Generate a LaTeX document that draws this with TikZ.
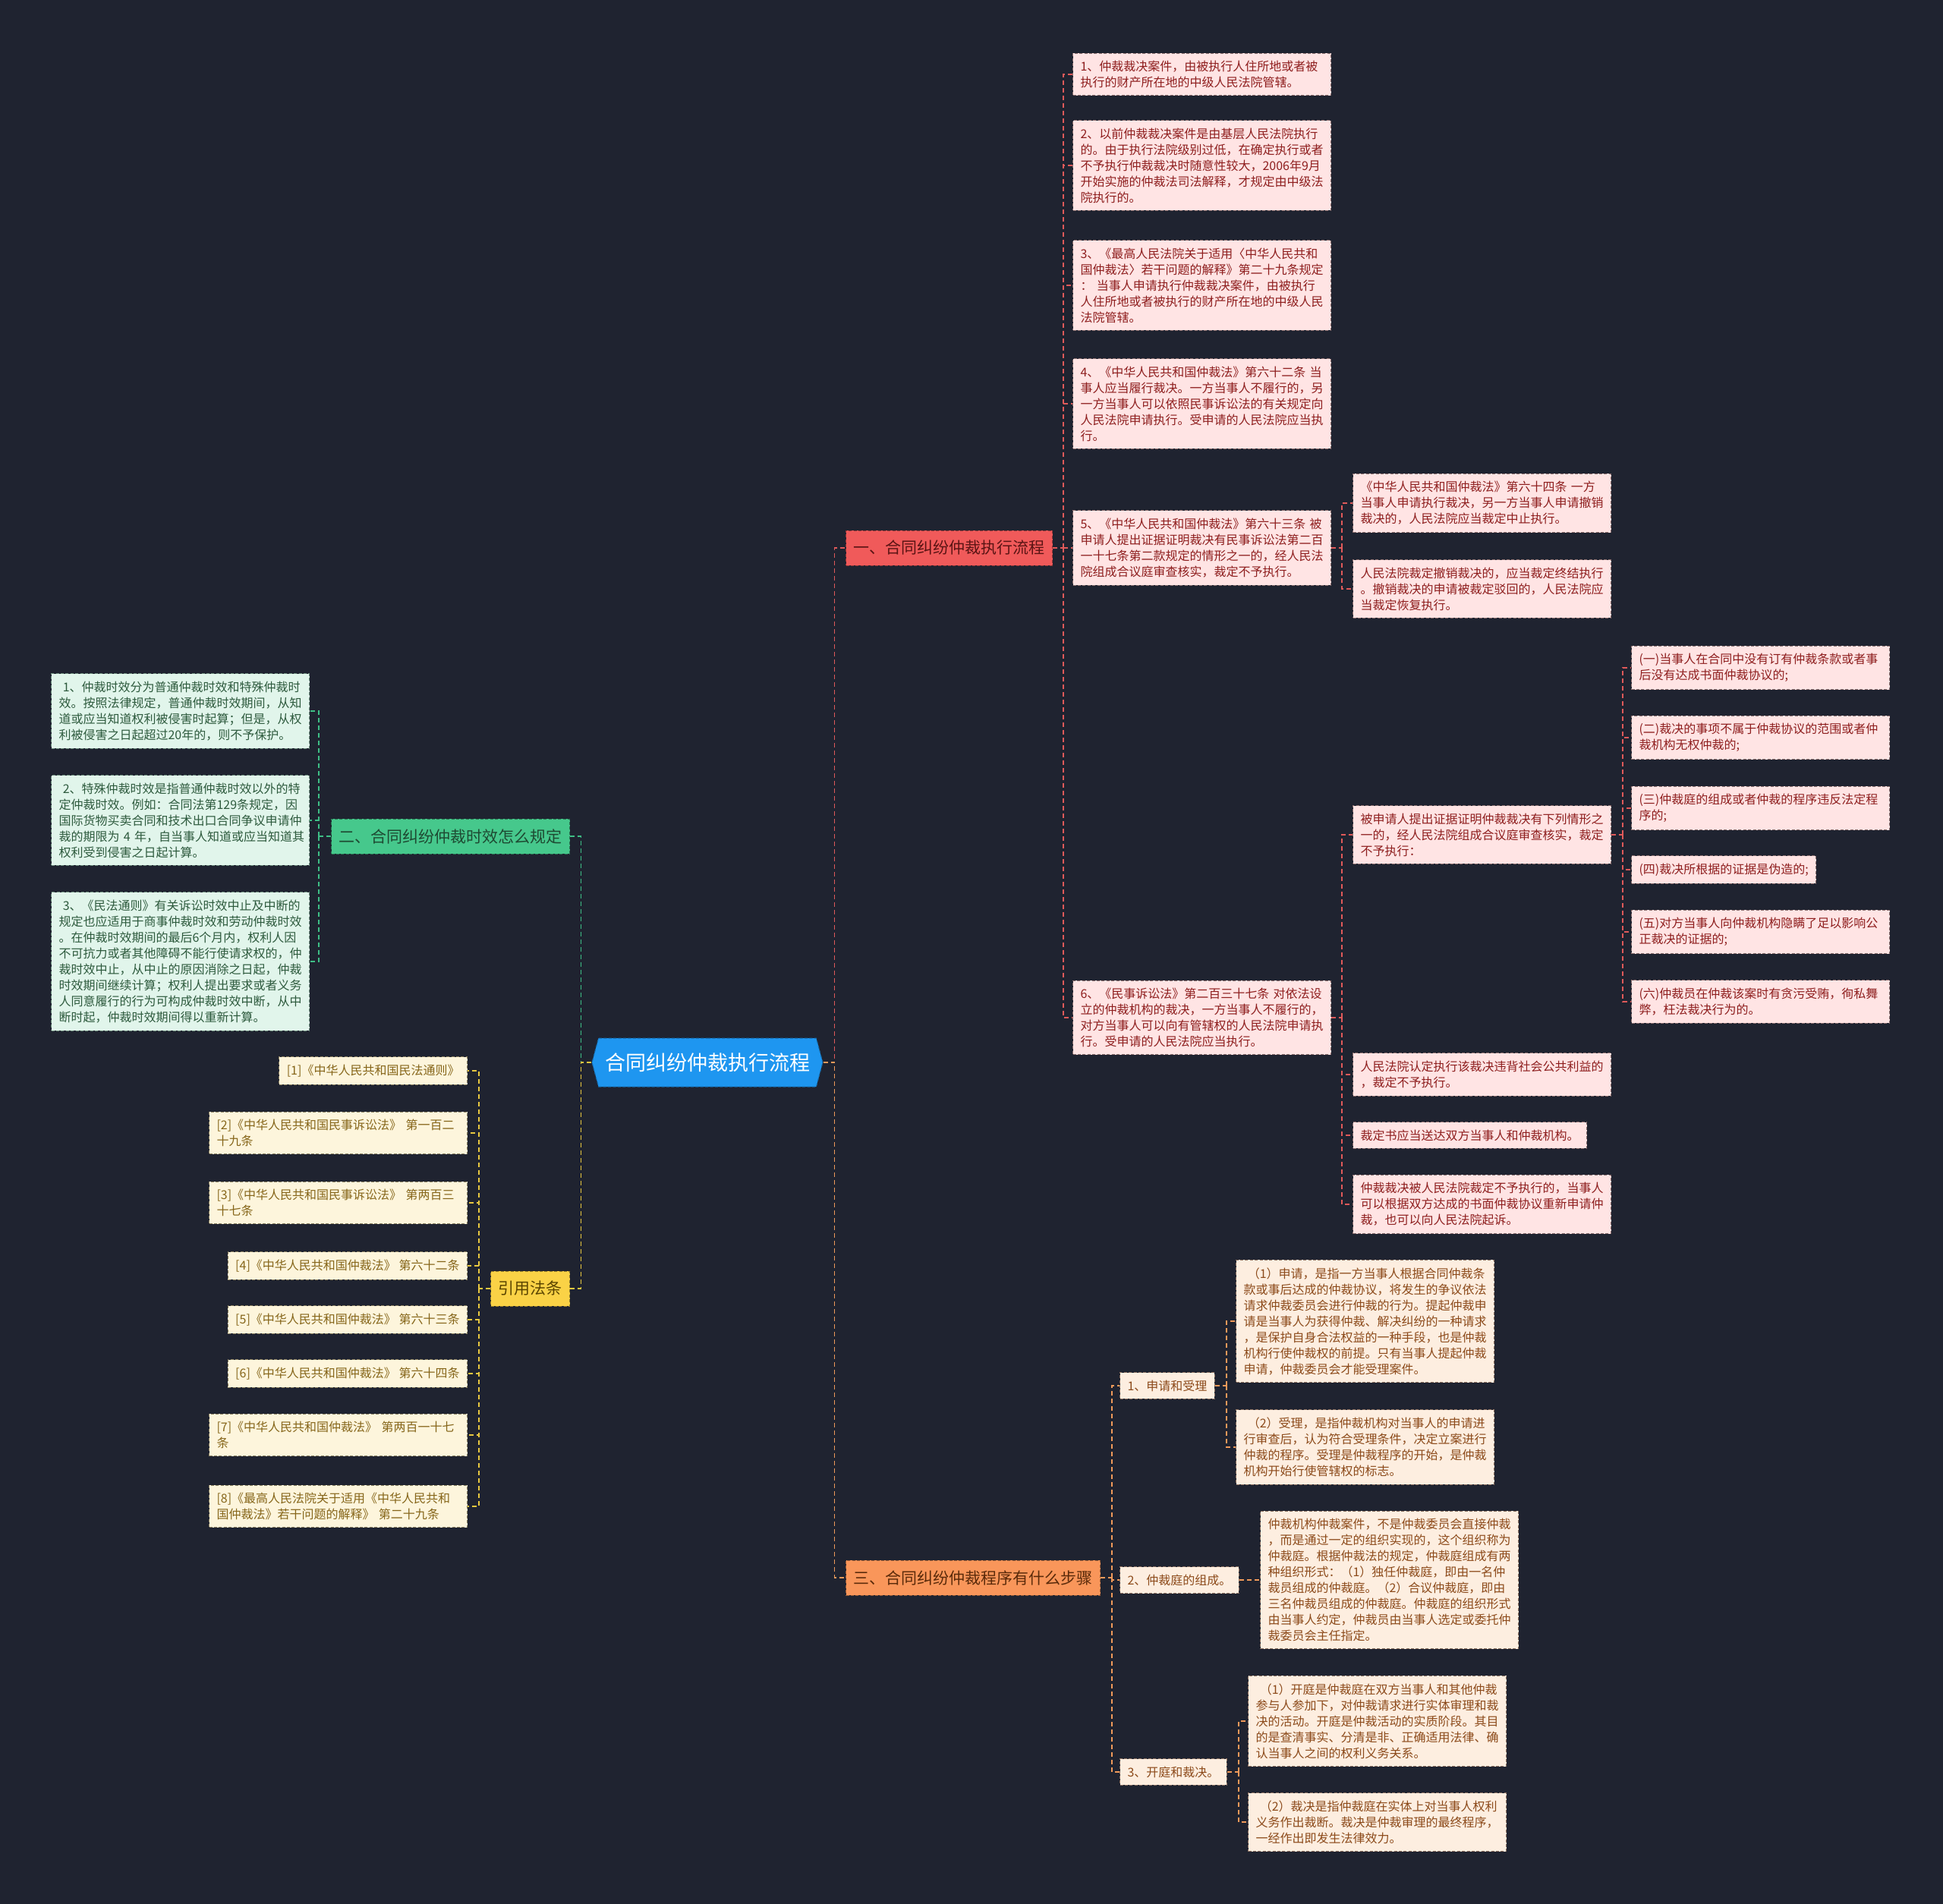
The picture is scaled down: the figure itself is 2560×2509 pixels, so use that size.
\documentclass[tikz,border=0pt]{standalone}
\usepackage{fontspec}
\setmainfont{Noto Sans CJK SC}
\usetikzlibrary{shapes.symbols}
\definecolor{bgc}{HTML}{1F2330}
\definecolor{rootc}{HTML}{1E96F0}
\definecolor{redN}{HTML}{F05A5A}
\definecolor{redT}{HTML}{5A1414}
\definecolor{pinkF}{HTML}{FFE4E4}
\definecolor{pinkT}{HTML}{8E1E1E}
\definecolor{pinkD}{HTML}{8A6E6E}
\definecolor{redL}{HTML}{E05A5A}
\definecolor{grnN}{HTML}{46C88C}
\definecolor{grnT}{HTML}{1E4A32}
\definecolor{mintF}{HTML}{E1F5EB}
\definecolor{mintT}{HTML}{2D5A3D}
\definecolor{mintD}{HTML}{6A8A7A}
\definecolor{grnL}{HTML}{3EBF86}
\definecolor{ylwN}{HTML}{FAD246}
\definecolor{ylwT}{HTML}{5A4400}
\definecolor{creamF}{HTML}{FDF5DC}
\definecolor{creamT}{HTML}{86661A}
\definecolor{creamD}{HTML}{8A8060}
\definecolor{ylwL}{HTML}{E8C840}
\definecolor{orgN}{HTML}{F9965A}
\definecolor{orgT}{HTML}{5A2A0A}
\definecolor{peachF}{HTML}{FDEEE0}
\definecolor{peachT}{HTML}{8C4A1A}
\definecolor{peachD}{HTML}{8A7060}
\definecolor{orgL}{HTML}{F09A5A}
\begin{document}
\begin{tikzpicture}[x=0.5pt,y=-0.5pt,
  box/.style={rectangle, dash pattern=on 2pt off 1.2pt, line width=0.5pt, inner xsep=5pt, inner ysep=5pt,
    align=left, font=\fontsize{8pt}{10.5pt}\selectfont, anchor=west},
  wide/.style={text width=160pt},
  pinkbox/.style={box, fill=pinkF, draw=pinkD, text=pinkT},
  mintbox/.style={box, fill=mintF, draw=mintD, text=mintT, anchor=east},
  creambox/.style={box, fill=creamF, draw=creamD, text=creamT, anchor=east},
  peachbox/.style={box, fill=peachF, draw=peachD, text=peachT},
  branch/.style={rectangle, dash pattern=on 2pt off 1.2pt, line width=0.5pt, inner sep=0pt, inner xsep=5pt,
    minimum height=23pt, font=\fontsize{10.5pt}{12pt}\selectfont},
  conn/.style={dash pattern=on 3pt off 2pt, line width=0.75pt},
  conR/.style={conn, draw=redL},
  conG/.style={conn, draw=grnL},
  conY/.style={conn, draw=ylwL},
  conO/.style={conn, draw=orgL},
]
\fill[bgc] (0,0) rectangle (2560,2509);
\useasboundingbox (0,0) rectangle (2560,2509);

% root
\node[signal, signal to=east and west, signal pointer angle=150, fill=rootc, draw=rootc!70!black,
  dash pattern=on 2pt off 1.2pt, line width=0.5pt, text=white,
  minimum width=152pt, minimum height=32pt, inner sep=0pt,
  font=\fontsize{13.5pt}{15pt}\selectfont] (root) at (932,1400) {合同纠纷仲裁执行流程};

% branch nodes
\node[branch, fill=redN, draw=redN!60!black, text=redT, anchor=west] (A) at (1114,722) {一、合同纠纷仲裁执行流程};
\node[branch, fill=grnN, draw=grnN!60!black, text=grnT, anchor=east] (G) at (751,1102) {二、合同纠纷仲裁时效怎么规定};
\node[branch, fill=ylwN, draw=ylwN!60!black, text=ylwT, anchor=east] (Y) at (751,1698) {引用法条};
\node[branch, fill=orgN, draw=orgN!60!black, text=orgT, anchor=west] (C) at (1114,2079) {三、合同纠纷仲裁程序有什么步骤};

% branch 1 leaves
\node[pinkbox, wide] (A1) at (1413,98) {1、仲裁裁决案件，由被执行人住所地或者被\\执行的财产所在地的中级人民法院管辖。};
\node[pinkbox, wide] (A2) at (1413,218) {2、以前仲裁裁决案件是由基层人民法院执行\\的。由于执行法院级别过低，在确定执行或者\\不予执行仲裁裁决时随意性较大，2006年9月\\开始实施的仲裁法司法解释，才规定由中级法\\院执行的。};
\node[pinkbox, wide] (A3) at (1413,376) {3、《最高人民法院关于适用〈中华人民共和\\国仲裁法〉若干问题的解释》第二十九条规定\\：~当事人申请执行仲裁裁决案件，由被执行\\人住所地或者被执行的财产所在地的中级人民\\法院管辖。};
\node[pinkbox, wide] (A4) at (1413,532) {4、《中华人民共和国仲裁法》第六十二条~当\\事人应当履行裁决。一方当事人不履行的，另\\一方当事人可以依照民事诉讼法的有关规定向\\人民法院申请执行。受申请的人民法院应当执\\行。};
\node[pinkbox, wide] (A5) at (1413,722) {5、《中华人民共和国仲裁法》第六十三条~被\\申请人提出证据证明裁决有民事诉讼法第二百\\一十七条第二款规定的情形之一的，经人民法\\院组成合议庭审查核实，裁定不予执行。};
\node[pinkbox, wide] (A6) at (1413,1341) {6、《民事诉讼法》第二百三十七条~对依法设\\立的仲裁机构的裁决，一方当事人不履行的，\\对方当事人可以向有管辖权的人民法院申请执\\行。受申请的人民法院应当执行。};

\node[pinkbox, wide] (A5a) at (1782,663) {《中华人民共和国仲裁法》第六十四条~一方\\当事人申请执行裁决，另一方当事人申请撤销\\裁决的，人民法院应当裁定中止执行。};
\node[pinkbox, wide] (A5b) at (1782,776) {人民法院裁定撤销裁决的，应当裁定终结执行\\。撤销裁决的申请被裁定驳回的，人民法院应\\当裁定恢复执行。};

\node[pinkbox, wide] (A6a) at (1782,1100) {被申请人提出证据证明仲裁裁决有下列情形之\\一的，经人民法院组成合议庭审查核实，裁定\\不予执行：};
\node[pinkbox, wide] (A6b) at (1782,1416) {人民法院认定执行该裁决违背社会公共利益的\\，裁定不予执行。};
\node[pinkbox] (A6c) at (1782,1496) {裁定书应当送达双方当事人和仲裁机构。};
\node[pinkbox, wide] (A6d) at (1782,1587) {仲裁裁决被人民法院裁定不予执行的，当事人\\可以根据双方达成的书面仲裁协议重新申请仲\\裁，也可以向人民法院起诉。};

\node[pinkbox, wide] (K1) at (2149,880) {(一)当事人在合同中没有订有仲裁条款或者事\\后没有达成书面仲裁协议的;};
\node[pinkbox, wide] (K2) at (2149,972) {(二)裁决的事项不属于仲裁协议的范围或者仲\\裁机构无权仲裁的;};
\node[pinkbox, wide] (K3) at (2149,1065) {(三)仲裁庭的组成或者仲裁的程序违反法定程\\序的;};
\node[pinkbox] (K4) at (2149,1146) {(四)裁决所根据的证据是伪造的;};
\node[pinkbox, wide] (K5) at (2149,1228) {(五)对方当事人向仲裁机构隐瞒了足以影响公\\正裁决的证据的;};
\node[pinkbox, wide] (K6) at (2149,1320) {(六)仲裁员在仲裁该案时有贪污受贿，徇私舞\\弊，枉法裁决行为的。};

% branch 2 leaves
\node[mintbox, wide] (G1) at (408,937) {\ 1、仲裁时效分为普通仲裁时效和特殊仲裁时\\效。按照法律规定，普通仲裁时效期间，从知\\道或应当知道权利被侵害时起算；但是，从权\\利被侵害之日起超过20年的，则不予保护。};
\node[mintbox, wide] (G2) at (408,1081) {\ 2、特殊仲裁时效是指普通仲裁时效以外的特\\定仲裁时效。例如：合同法第129条规定，因\\国际货物买卖合同和技术出口合同争议申请仲\\裁的期限为~4~年，自当事人知道或应当知道其\\权利受到侵害之日起计算。};
\node[mintbox, wide] (G3) at (408,1267) {\ 3、《民法通则》有关诉讼时效中止及中断的\\规定也应适用于商事仲裁时效和劳动仲裁时效\\。在仲裁时效期间的最后6个月内，权利人因\\不可抗力或者其他障碍不能行使请求权的，仲\\裁时效中止，从中止的原因消除之日起，仲裁\\时效期间继续计算；权利人提出要求或者义务\\人同意履行的行为可构成仲裁时效中断，从中\\断时起，仲裁时效期间得以重新计算。};

% references
\node[creambox] (Y1) at (616,1411) {[1]《中华人民共和国民法通则》};
\node[creambox, wide] (Y2) at (616,1493) {[2]《中华人民共和国民事诉讼法》~第一百二\\十九条};
\node[creambox, wide] (Y3) at (616,1585) {[3]《中华人民共和国民事诉讼法》~第两百三\\十七条};
\node[creambox] (Y4) at (616,1668) {[4]《中华人民共和国仲裁法》~第六十二条};
\node[creambox] (Y5) at (616,1739) {[5]《中华人民共和国仲裁法》~第六十三条};
\node[creambox] (Y6) at (616,1810) {[6]《中华人民共和国仲裁法》~第六十四条};
\node[creambox, wide] (Y7) at (616,1891) {[7]《中华人民共和国仲裁法》~第两百一十七\\条};
\node[creambox, wide] (Y8) at (616,1985) {[8]《最高人民法院关于适用《中华人民共和\\国仲裁法》若干问题的解释》~第二十九条};

% branch 3
\node[peachbox] (C1) at (1475,1826) {1、申请和受理};
\node[peachbox] (C2) at (1475,2082) {2、仲裁庭的组成。};
\node[peachbox] (C3) at (1475,2335) {3、开庭和裁决。};
\node[peachbox, wide] (C1a) at (1628,1741) {\ （1）申请，是指一方当事人根据合同仲裁条\\款或事后达成的仲裁协议，将发生的争议依法\\请求仲裁委员会进行仲裁的行为。提起仲裁申\\请是当事人为获得仲裁、解决纠纷的一种请求\\，是保护自身合法权益的一种手段，也是仲裁\\机构行使仲裁权的前提。只有当事人提起仲裁\\申请，仲裁委员会才能受理案件。};
\node[peachbox, wide] (C1b) at (1628,1907) {\ （2）受理，是指仲裁机构对当事人的申请进\\行审查后，认为符合受理条件，决定立案进行\\仲裁的程序。受理是仲裁程序的开始，是仲裁\\机构开始行使管辖权的标志。};
\node[peachbox, wide] (C2a) at (1660,2082) {仲裁机构仲裁案件，不是仲裁委员会直接仲裁\\，而是通过一定的组织实现的，这个组织称为\\仲裁庭。根据仲裁法的规定，仲裁庭组成有两\\种组织形式：（1）独任仲裁庭，即由一名仲\\裁员组成的仲裁庭。（2）合议仲裁庭，即由\\三名仲裁员组成的仲裁庭。仲裁庭的组织形式\\由当事人约定，仲裁员由当事人选定或委托仲\\裁委员会主任指定。};
\node[peachbox, wide] (C3a) at (1644,2268) {\ （1）开庭是仲裁庭在双方当事人和其他仲裁\\参与人参加下，对仲裁请求进行实体审理和裁\\决的活动。开庭是仲裁活动的实质阶段。其目\\的是查清事实、分清是非、正确适用法律、确\\认当事人之间的权利义务关系。};
\node[peachbox, wide] (C3b) at (1644,2401) {\ （2）裁决是指仲裁庭在实体上对当事人权利\\义务作出裁断。裁决是仲裁审理的最终程序，\\一经作出即发生法律效力。};

% connectors: root
\draw[conR] (root.east) -- ++(15,0) |- (A.west);
\draw[conO] (root.east) -- ++(15,0) |- (C.west);
\draw[conG] (root.west) -- ++(-14,0) |- (G.east);
\draw[conY] (root.west) -- ++(-14,0) |- (Y.east);

% branch 1
\draw[conR] (A.east) -- ++(14,0) coordinate (sA);
\foreach \n in {A1,A2,A3,A4,A5,A6} \draw[conR] (sA) |- (\n.west);
\draw[conR] (A5.east) -- ++(14,0) coordinate (sA5);
\foreach \n in {A5a,A5b} \draw[conR] (sA5) |- (\n.west);
\draw[conR] (A6.east) -- ++(14,0) coordinate (sA6);
\foreach \n in {A6a,A6b,A6c,A6d} \draw[conR] (sA6) |- (\n.west);
\draw[conR] (A6a.east) -- ++(15,0) coordinate (sK);
\foreach \n in {K1,K2,K3,K4,K5,K6} \draw[conR] (sK) |- (\n.west);

% branch 2
\draw[conG] (G.west) -- ++(-16,0) coordinate (sG);
\foreach \n in {G1,G2,G3} \draw[conG] (sG) |- (\n.east);

% references
\draw[conY] (Y.west) -- ++(-15,0) coordinate (sY);
\foreach \n in {Y1,Y2,Y3,Y4,Y5,Y6,Y7,Y8} \draw[conY] (sY) |- (\n.east);

% branch 3
\draw[conO] (C.east) -- ++(15,0) coordinate (sC);
\foreach \n in {C1,C2,C3} \draw[conO] (sC) |- (\n.west);
\draw[conO] (C1.east) -- ++(15,0) coordinate (sC1);
\foreach \n in {C1a,C1b} \draw[conO] (sC1) |- (\n.west);
\draw[conO] (C2.east) -- (C2a.west);
\draw[conO] (C3.east) -- ++(15,0) coordinate (sC3);
\foreach \n in {C3a,C3b} \draw[conO] (sC3) |- (\n.west);
\end{tikzpicture}
\end{document}
